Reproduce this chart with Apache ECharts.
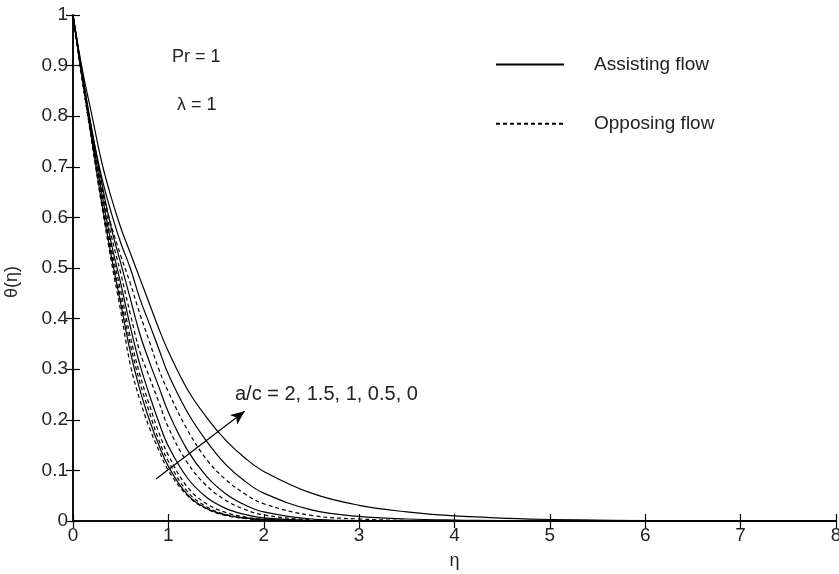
<!DOCTYPE html>
<html><head><meta charset="utf-8">
<script src="https://cdn.jsdelivr.net/npm/echarts@6/dist/echarts.min.js"></script>
<style>html,body{margin:0;padding:0;background:#fff}#c{width:839px;height:574px}</style>
</head><body><div id="c"></div>
<script>
const eta = [0,0.1,0.2,0.3,0.4,0.5,0.6,0.7,0.8,0.9,1.0,1.2,1.4,1.6,1.8,2.0,2.5,3,3.5,4,5,8];
// Assisting flow (solid), outer to inner
const assist1 = [1,0.89,0.80,0.71,0.64,0.58,0.53,0.48,0.43,0.38,0.335,0.26,0.205,0.16,0.125,0.098,0.055,0.031,0.018,0.01,0.003,0];
const assist2 = [1,0.88,0.77,0.68,0.61,0.55,0.50,0.44,0.39,0.34,0.29,0.215,0.158,0.112,0.079,0.055,0.022,0.009,0.004,0.002,0,0];
const assist3 = [1,0.88,0.77,0.67,0.58,0.51,0.44,0.37,0.315,0.265,0.215,0.14,0.088,0.054,0.032,0.018,0.004,0.001,0,0,0,0];
const assist4 = [1,0.875,0.76,0.65,0.55,0.47,0.385,0.31,0.25,0.195,0.148,0.085,0.047,0.025,0.013,0.006,0.001,0,0,0,0,0];
const assist5 = [1,0.87,0.75,0.63,0.525,0.43,0.335,0.26,0.20,0.15,0.108,0.052,0.025,0.012,0.006,0.003,0,0,0,0,0,0];
// Opposing flow (dashed), outer to inner
const oppose1 = [1,0.87,0.755,0.66,0.585,0.525,0.47,0.41,0.355,0.30,0.255,0.18,0.122,0.082,0.054,0.034,0.011,0.004,0.001,0,0,0];
const oppose2 = [1,0.875,0.765,0.66,0.565,0.49,0.41,0.335,0.285,0.235,0.185,0.115,0.07,0.041,0.023,0.012,0.002,0,0,0,0,0];
const oppose3 = [1,0.87,0.755,0.64,0.54,0.455,0.365,0.29,0.23,0.175,0.13,0.067,0.034,0.017,0.008,0.004,0.001,0,0,0,0,0];
const oppose4 = [1,0.87,0.75,0.635,0.53,0.44,0.35,0.275,0.215,0.16,0.118,0.058,0.028,0.013,0.006,0.003,0,0,0,0,0,0];
const oppose5 = [1,0.87,0.745,0.625,0.515,0.415,0.31,0.24,0.185,0.14,0.10,0.05,0.024,0.011,0.005,0.002,0,0,0,0,0,0];
const xTicks = [0,1,2,3,4,5,6,7,8];
const arrowStart = [0.87, 0.083];
const arrowEnd = [1.80, 0.217];

const FONT = 'Liberation Sans';
const zip = a => eta.map((e,i)=>[e,a[i]]);
const solid = [assist1,assist2,assist3,assist4,assist5];
const dashed = [oppose1,oppose2,oppose3,oppose4,oppose5];
const series = [];
solid.forEach(a=>series.push({name:'Assisting flow',type:'line',data:zip(a),smooth:0.4,symbol:'none',
  lineStyle:{color:'#000',width:1.2},itemStyle:{color:'#000'},z:3}));
dashed.forEach(a=>series.push({name:'Opposing flow',type:'line',data:zip(a),smooth:0.4,symbol:'none',
  lineStyle:{color:'#000',width:1.2,type:[4,3]},itemStyle:{color:'#000'},z:3}));
series[0].markLine = {silent:true,symbol:['none','arrow'],symbolSize:[9,14],
  lineStyle:{color:'#000',width:1.2,type:'solid'},label:{show:false},
  data:[[{coord:arrowStart},{coord:arrowEnd}]]};

const axisCommon = {axisLine:{show:true,lineStyle:{color:'#000',width:1.5}},
  axisTick:{show:true,inside:true,length:7,lineStyle:{color:'#000',width:1.2}},
  splitLine:{show:false}};
const chart = echarts.init(document.getElementById('c'));
chart.setOption({
  animation:false,
  backgroundColor:'#fff',
  grid:{left:73,right:3,top:15,bottom:53,containLabel:false,outerBoundsMode:'none'},
  xAxis:[
    Object.assign({type:'value',min:0,max:8,interval:1,position:'bottom',
      name:'η',nameLocation:'middle',nameGap:31,nameTextStyle:{fontFamily:FONT,fontSize:18,color:'#222'},
      axisLabel:{fontFamily:FONT,fontSize:19,color:'#222',margin:5}},axisCommon),
    Object.assign({type:'value',min:0,max:8,interval:1,position:'top',axisLabel:{show:false}},axisCommon)
  ],
  yAxis:[
    Object.assign({type:'value',min:0,max:1,interval:0.1,position:'left',
      name:'θ(η)',nameLocation:'middle',nameGap:52,nameRotate:90,
      nameTextStyle:{fontFamily:FONT,fontSize:18,color:'#222',padding:[0,28,0,0]},
      axisLabel:{fontFamily:FONT,fontSize:19,color:'#222',margin:5}},axisCommon),
    Object.assign({type:'value',min:0,max:1,interval:0.1,position:'right',axisLabel:{show:false}},axisCommon)
  ],
  legend:{orient:'vertical',left:490,top:50,itemWidth:68,itemHeight:24,itemGap:40,
    data:['Assisting flow','Opposing flow'],
    itemStyle:{opacity:0},
    textStyle:{fontFamily:FONT,fontSize:19,color:'#222',padding:[0,0,0,25]}},
  graphic:[
    {type:'text',left:172,top:48,style:{text:'Pr = 1',font:'18px "Liberation Sans"',fill:'#222'}},
    {type:'text',left:177,top:96,style:{text:'λ = 1',font:'18px "Liberation Sans"',fill:'#222'}},
    {type:'text',left:235,top:384,style:{text:'a/c = 2, 1.5, 1, 0.5, 0',font:'20px "Liberation Sans"',fill:'#222'}}
  ],
  series:series
});
</script></body></html>
